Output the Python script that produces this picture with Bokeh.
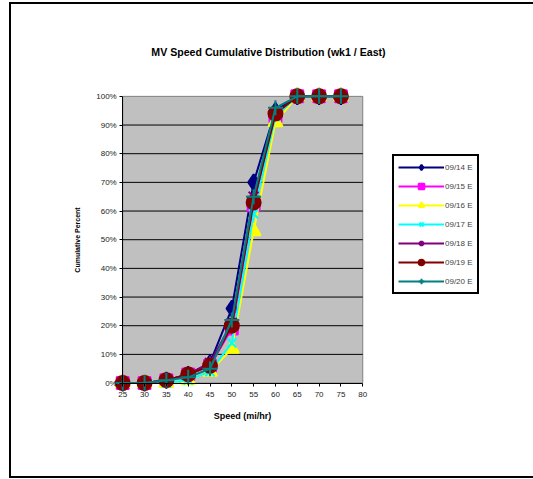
from bokeh.plotting import figure
from bokeh.models import (Range1d, FixedTicker, NumeralTickFormatter, Legend, LegendItem, Label)
from bokeh.embed import file_html
from bokeh.resources import INLINE

speeds = [25, 30, 35, 40, 45, 50, 55, 60, 65, 70, 75]
d0914 = [0, 0, 1, 3, 7, 26, 70, 95, 100, 100, 100]
d0915 = [0, 0, 1, 3, 6, 19, 62, 93, 100, 100, 100]
d0916 = [0, 0, 0, 1, 4, 12, 53, 91, 100, 100, 100]
d0917 = [0, 0, 0, 1, 4, 14, 59, 93, 100, 100, 100]
d0918 = [0, 0, 1, 3, 7, 21, 65, 94, 100, 100, 100]
d0919 = [0, 0, 1, 3, 6, 20, 63, 94, 100, 100, 100]
d0920 = [0, 0, 1, 2, 5, 22, 65, 96, 100, 100, 100]
series_names = ["09/14 E", "09/15 E", "09/16 E", "09/17 E", "09/18 E", "09/19 E", "09/20 E"]
x_ticks = [25, 30, 35, 40, 45, 50, 55, 60, 65, 70, 75, 80]
y_ticks = [0, 0.1, 0.2, 0.3, 0.4, 0.5, 0.6, 0.7, 0.8, 0.9, 1.0]

series = [d0914, d0915, d0916, d0917, d0918, d0919, d0920]
colors = ["#000080", "#ff00ff", "#ffff00", "#00ffff", "#800080", "#800000", "#008080"]
markers = ["diamond", "square", "triangle", "x", "asterisk", "circle", "cross"]
msizes = [16, 12, 14, 13, 14, 14, 15]

FONT = "Liberation Sans"
x_min, x_max = x_ticks[0], x_ticks[-1]
y_min, y_max = y_ticks[0], y_ticks[-1]

# layout geometry (pixels inside the canvas)
W, H = 522, 472
ML, MB = 60, 50
AX_L, AX_R = 111, 350      # canvas x of x_min / x_max
AX_T, AX_B = 91, 375       # canvas y of y_max / y_min
kx = (AX_R - AX_L) / (x_max - x_min)
ky = (AX_B - AX_T) / (y_max - y_min)
xr = Range1d(x_min - (AX_L - ML) / kx, x_max + (W - AX_R) / kx)
yr = Range1d(y_min - (H - MB - AX_B) / ky, y_max + AX_T / ky)

p = figure(width=W + 2, height=H + 4, output_backend="svg", toolbar_location=None,
           x_range=xr, y_range=yr,
           min_border_left=ML, min_border_right=0, min_border_top=0, min_border_bottom=MB)
p.title = None
p.styles = {"margin-left": "9px", "margin-top": "2px",
            "border-left": "2px solid black", "border-top": "2px solid black",
            "border-bottom": "2px solid black"}
p.background_fill_color = None
p.border_fill_color = None
p.outline_line_color = None
p.xgrid.grid_line_color = None
p.ygrid.grid_line_color = None

# plot area and gridlines
p.quad(left=[x_min], right=[x_max], bottom=[y_min], top=[y_max],
       fill_color="#c0c0c0", line_color="#808080", line_width=1)
grid_y = y_ticks[1:-1]
p.segment(x0=[x_min] * len(grid_y), x1=[x_max] * len(grid_y), y0=grid_y, y1=grid_y,
          line_color="black", line_width=1)

p.xaxis.ticker = FixedTicker(ticks=x_ticks)
p.yaxis.ticker = FixedTicker(ticks=y_ticks)
p.yaxis.formatter = NumeralTickFormatter(format="0%")
p.xaxis.fixed_location = y_min
p.yaxis.fixed_location = x_min
p.xaxis.bounds = (x_min, x_max)
p.yaxis.bounds = (y_min, y_max)
for ax in (p.xaxis[0], p.yaxis[0]):
    ax.axis_line_color = "black"
    ax.major_tick_line_color = "black"
    ax.major_tick_in = 0
    ax.major_tick_out = 3
    ax.minor_tick_line_color = None
    ax.major_label_text_font = FONT
    ax.major_label_text_font_size = "8px"
    ax.major_label_text_color = "#222222"
    ax.axis_label_text_font = FONT
    ax.axis_label_text_font_style = "bold"
    ax.axis_label_text_color = "black"
p.xaxis.axis_label = "Speed (mi/hr)"
p.xaxis.axis_label_text_font_size = "9px"
p.xaxis.major_label_standoff = 6
p.xaxis.axis_label_standoff = 10
p.yaxis.axis_label = "Cumulative Percent"
p.yaxis.axis_label_text_font_size = "7px"
p.yaxis.major_label_standoff = 3
p.yaxis.axis_label_standoff = 12

items = []
for name, vals, c, m, s in zip(series_names, series, colors, markers, msizes):
    ys = [v / 100 for v in vals]
    r1 = p.line(speeds, ys, line_color=c, line_width=2)
    r2 = p.scatter(speeds, ys, marker=m, size=s, fill_color=c, line_color=c, line_width=2)
    items.append(LegendItem(label=name, renderers=[r1, r2]))

legend = Legend(items=items, location=(321, 136), orientation="vertical",
                border_line_color="black", border_line_width=2, border_line_alpha=1,
                background_fill_color="white", background_fill_alpha=1,
                label_text_font=FONT, label_text_font_size="8px",
                glyph_width=46, glyph_height=14, label_height=14,
                spacing=5, padding=4, margin=0, label_standoff=1)
p.add_layout(legend, "center")

title = Label(x=197, y=379, x_units="screen", y_units="screen",
              text="MV Speed Cumulative Distribution (wk1 / East)",
              text_font=FONT, text_font_size="10.6px", text_font_style="bold",
              text_align="center", text_baseline="middle", text_color="black")
p.add_layout(title)

open("out.html", "w").write(file_html(p, INLINE))
